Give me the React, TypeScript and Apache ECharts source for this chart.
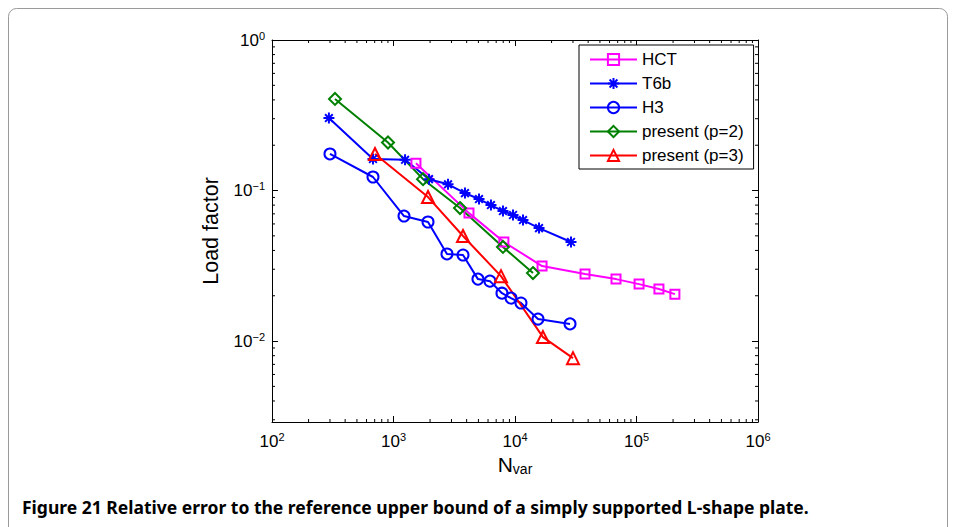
import React, { useEffect, useRef } from "react";
import * as echarts from "echarts";

// ---- data ----
const hctN = [1530, 4180, 8100, 16700, 37700, 67800, 105000, 153000, 207000];
const hctLF = [0.152, 0.0708, 0.0455, 0.0315, 0.0279, 0.0258, 0.0239, 0.0222, 0.0205];

const t6bN = [294, 678, 1245, 1960, 2810, 3875, 5055, 6340, 7960, 9630, 11640, 15770, 28900];
const t6bLF = [0.303, 0.162, 0.16, 0.119, 0.11, 0.0962, 0.0878, 0.0801, 0.0731, 0.0688, 0.0637, 0.0563, 0.0455];

const h3N = [300, 678, 1220, 1923, 2755, 3733, 4955, 6220, 7810, 9270, 11200, 15460, 28370];
const h3LF = [0.175, 0.123, 0.0677, 0.0618, 0.0379, 0.0373, 0.0258, 0.025, 0.0208, 0.0193, 0.0179, 0.014, 0.013];

const p2N = [330, 901, 1750, 3527, 7960, 14060];
const p2LF = [0.406, 0.2085, 0.119, 0.0765, 0.0422, 0.0283];

const p3N = [704, 1923, 3733, 7670, 16990, 30000];
const p3LF = [0.175, 0.0905, 0.0499, 0.027, 0.01063, 0.0077];

const seriesNames = ["HCT", "T6b", "H3", "present (p=2)", "present (p=3)"];
const xName = "N";
const xNameSub = "var";
const yName = "Load factor";
const caption = "Figure 21 Relative error to the reference upper bound of a simply supported L-shape plate.";

const X_MIN = 100;
const X_MAX = 1e6;
const Y_MIN = 0.0029;
const Y_MAX = 1;

const FONT = "Liberation Sans";
const ASTERISK = "path://M0,-10L0,10M-10,0L10,0M-7,-7L7,7M-7,7L7,-7";

const pair = (xs: number[], ys: number[]) => xs.map((x, i) => [x, ys[i]]);

function minorValues(lo: number, hi: number) {
  const out: number[] = [];
  for (let k = Math.floor(Math.log10(lo)); k < Math.ceil(Math.log10(hi)); k++) {
    for (let m = 2; m <= 9; m++) {
      const v = m * Math.pow(10, k);
      if (v > lo && v < hi) out.push(v);
    }
  }
  return out;
}

const powLabel = (v: number) => {
  const e = Math.round(Math.log10(v));
  const s = e < 0 ? "\u2212" + Math.abs(e) : String(e);
  return `{b|10}{s|${s}}`;
};

const labelRich = {
  b: { fontSize: 17, fontFamily: FONT, color: "#000" },
  s: { fontSize: 11, fontFamily: FONT, color: "#000", padding: [0, 0, 9, 0] },
};

export default function App() {
  const ref = useRef<HTMLDivElement>(null);
  useEffect(() => {
    if (!ref.current) return;
    const chart = echarts.init(ref.current, null, { renderer: "svg" });

    const lineSeries = (name: string, data: number[][], color: string, symbol: string, size: number) => ({
      name,
      type: "line",
      data,
      xAxisIndex: 0,
      yAxisIndex: 0,
      symbol,
      symbolSize: size,
      showAllSymbol: true,
      lineStyle: { color, width: 2 },
      itemStyle: { color: "rgba(255,255,255,0)", borderColor: color, borderWidth: 2 },
      emphasis: { disabled: true },
      z: 3,
    });

    const minorX = minorValues(X_MIN, X_MAX).map((v) => [v, Y_MIN]);
    const minorY = minorValues(Y_MIN, Y_MAX).map((v) => [X_MIN, v]);

    const minorRender = (dir: "x" | "y") => (params: any, api: any) => {
      const cs = params.coordSys;
      const p = api.coord([api.value(0), api.value(1)]);
      const st = { stroke: "#000", lineWidth: 1 };
      const L = 3;
      if (dir === "x") {
        return {
          type: "group",
          children: [
            { type: "line", shape: { x1: p[0], y1: cs.y + cs.height, x2: p[0], y2: cs.y + cs.height - L }, style: st },
            { type: "line", shape: { x1: p[0], y1: cs.y, x2: p[0], y2: cs.y + L }, style: st },
          ],
        };
      }
      return {
        type: "group",
        children: [
          { type: "line", shape: { x1: cs.x, y1: p[1], x2: cs.x + L, y2: p[1] }, style: st },
          { type: "line", shape: { x1: cs.x + cs.width, y1: p[1], x2: cs.x + cs.width - L, y2: p[1] }, style: st },
        ],
      };
    };

    const axisCommon = {
      type: "log",
      logBase: 10,
      splitLine: { show: false },
      axisLine: { show: true, lineStyle: { color: "#000", width: 1 } },
      axisTick: { show: true, inside: true, length: 6, lineStyle: { color: "#000", width: 1 } },
      minorTick: { show: false },
    };

    chart.setOption({
      animation: false,
      backgroundColor: "#fff",
      grid: { left: 272, top: 40, width: 486, height: 382, containLabel: false },
      xAxis: [
        {
          ...axisCommon,
          position: "bottom",
          min: X_MIN,
          max: X_MAX,
          axisLabel: { formatter: powLabel, rich: labelRich, margin: 9 },
          name: `{n|${xName}}{sub|${xNameSub}}`,
          nameLocation: "middle",
          nameGap: 32,
          nameTextStyle: {
            rich: {
              n: { fontSize: 21, fontFamily: FONT, color: "#000" },
              sub: { fontSize: 14, fontFamily: FONT, color: "#000", padding: [0, 0, -9, 0] },
            },
          },
        },
        {
          ...axisCommon,
          position: "top",
          min: X_MIN,
          max: X_MAX,
          axisLabel: { show: false },
        },
      ],
      yAxis: [
        {
          ...axisCommon,
          position: "left",
          min: Y_MIN,
          max: Y_MAX,
          axisLabel: { formatter: powLabel, rich: labelRich, margin: 7, showMinLabel: false },
          name: yName,
          nameLocation: "middle",
          nameGap: 50,
          nameTextStyle: { fontSize: 21.5, fontFamily: FONT, color: "#000" },
        },
        {
          ...axisCommon,
          position: "right",
          min: Y_MIN,
          max: Y_MAX,
          axisLabel: { show: false },
        },
      ],
      legend: {
        orient: "vertical",
        left: 579,
        top: 45,
        padding: [6, 10, 5, 10],
        itemGap: 7,
        itemWidth: 47,
        itemHeight: 14,
        borderColor: "#000",
        borderWidth: 1,
        backgroundColor: "#fff",
        textStyle: { fontFamily: FONT, fontSize: 17, color: "#000" },
        data: seriesNames,
        selectedMode: false,
      },
      series: [
        lineSeries(seriesNames[0], pair(hctN, hctLF), "#ff00ff", "rect", 9),
        lineSeries(seriesNames[1], pair(t6bN, t6bLF), "#0000ff", ASTERISK, 11),
        lineSeries(seriesNames[2], pair(h3N, h3LF), "#0000ff", "circle", 11),
        lineSeries(seriesNames[3], pair(p2N, p2LF), "#008000", "diamond", 12),
        lineSeries(seriesNames[4], pair(p3N, p3LF), "#ff0000", "triangle", 12),
        {
          type: "custom",
          silent: true,
          renderItem: minorRender("x"),
          data: minorX,
          z: 2,
        },
        {
          type: "custom",
          silent: true,
          renderItem: minorRender("y"),
          data: minorY,
          z: 2,
        },
      ],
      graphic: [
        {
          type: "rect",
          shape: { x: 8.5, y: 8.5, width: 939, height: 600, r: 8 },
          style: { fill: "none", stroke: "#9a9a9a", lineWidth: 1 },
          silent: true,
          z: -1,
        },
        {
          type: "text",
          x: 22,
          y: 507,
          style: {
            text: caption,
            fontFamily: "Noto Sans",
            fontWeight: "bold",
            fontSize: 17.5,
            fill: "#000",
            verticalAlign: "middle",
          },
        },
      ],
    });
    return () => chart.dispose();
  }, []);
  return <div ref={ref} style={{ position: "fixed", left: 0, top: 0, width: 956, height: 527 }} />;
}
